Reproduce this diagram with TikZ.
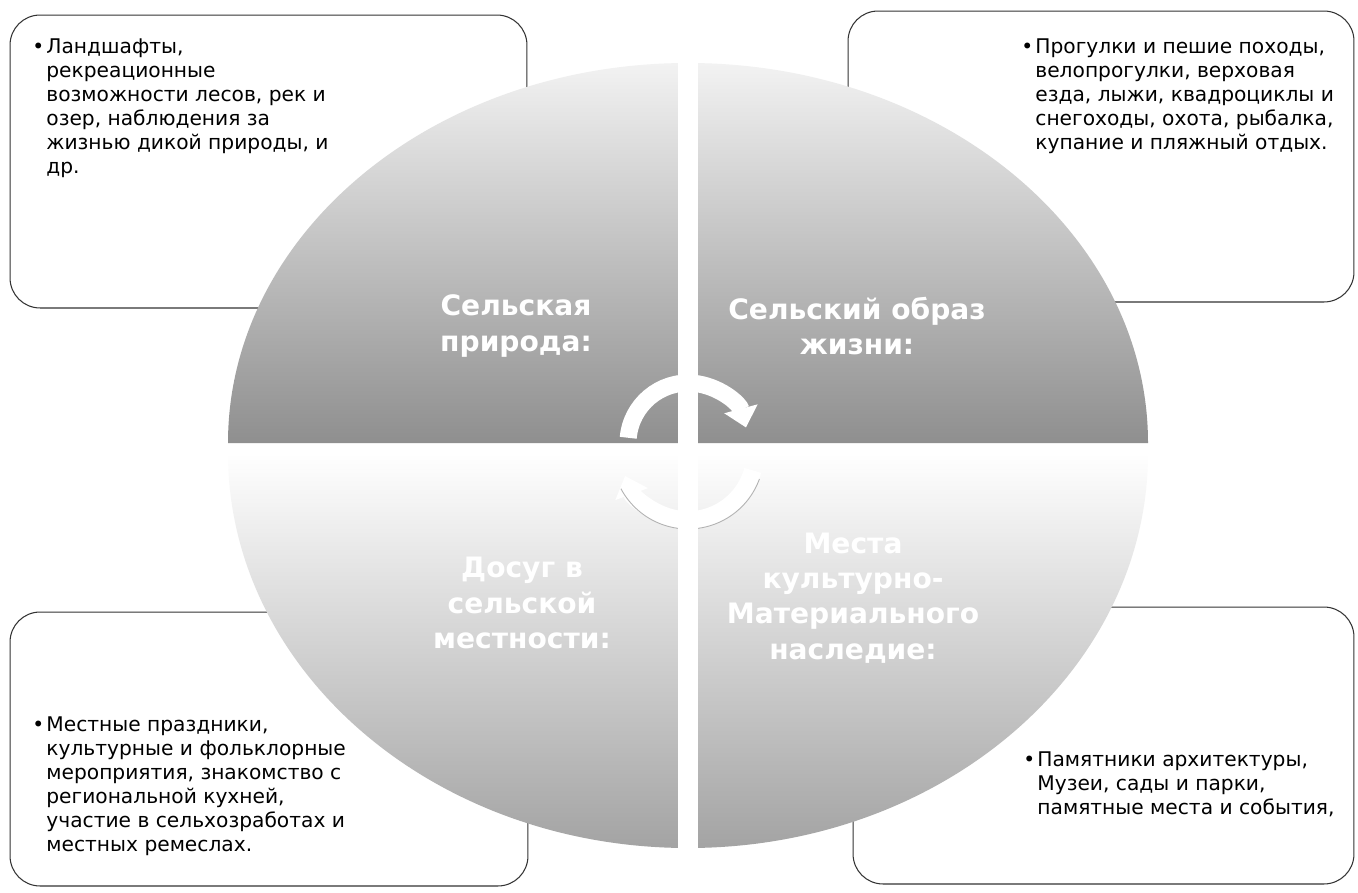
\documentclass[tikz,border=0pt]{standalone}
\usepackage{fontspec}
\setmainfont{DejaVu Sans}
\usetikzlibrary{arrows.meta}

\tikzset{
  infobox/.style={draw=black!80, line width=0.6pt, fill=white, rounded corners=0.6cm, inner sep=0pt},
  infotext/.style={anchor=north west, inner sep=0pt, align=left,
    font=\fontsize{11.5pt}{13.7pt}\selectfont},
  quadtitle/.style={text=white, align=center, inner sep=0pt,
    font=\fontsize{16pt}{20pt}\selectfont\bfseries},
}
\newcommand{\bullist}[1]{\makebox[8pt][l]{\textbullet}\begin{tabular}[t]{@{}l@{}}#1\end{tabular}}

\begin{document}
\begin{tikzpicture}[x=0.02cm, y=-0.02cm]

  \useasboundingbox (0,0) rectangle (1358,892);
  \fill[white] (0,0) rectangle (1358,892);

  % Boxes
  \node[infobox, minimum width=10.34cm, minimum height=5.86cm] (boxnw) at (268.5,161.5) {};
  \node[infobox, minimum width=10.12cm, minimum height=5.82cm] (boxne) at (1101,156.5) {};
  \node[infobox, minimum width=10.36cm, minimum height=5.48cm] (boxsw) at (269,749) {};
  \node[infobox, minimum width=10.02cm, minimum height=5.54cm] (boxse) at (1103.5,745.5) {};

  % Circle
  \shade[top color=black!5, bottom color=black!44]
    (228,443) arc[start angle=180, end angle=360, x radius=460, y radius=380] -- cycle;
  \shade[top color=white, middle color=black!6, bottom color=black!36]
    (228,453) arc[start angle=180, end angle=0, x radius=460, y radius=395] -- cycle;

  % Arrows
  \coordinate (ctrup) at (688,443);
  \coordinate (ctrdown) at (688,453);
  \draw[white, line width=9.7pt, -{Triangle[width=19pt,length=11pt]}]
    (ctrup) ++(185:60) arc[start angle=185, end angle=345, radius=60];
  \draw[white, line width=10pt, -{Triangle[width=19pt,length=11pt]}]
    (ctrdown) ++(15:67) arc[start angle=15, end angle=160, radius=67];
  \draw[black!30, line width=0.5pt]
    (ctrdown) ++(20:76) arc[start angle=20, end angle=152, radius=76];

  % Gap
  \fill[white] (678,30) rectangle (698,870);

  % Titles
  \node[quadtitle] (titlenw) at (516,326) {Сельская\\природа:};
  \node[quadtitle] (titlene) at (857,326) {Сельский образ\\жизни:};
  \node[quadtitle] (titlesw) at (522,603) {Досуг в\\сельской\\местности:};
  \node[quadtitle] (titlese) at (853,598) {Места\\культурно-\\Материального\\наследие:};

  % Texts
  \node[infotext] (textnw) at (32,36) {\bullist{Ландшафты,\\ рекреационные\\ возможности лесов, рек и\\ озер, наблюдения за\\ жизнью дикой природы, и\\ др.}};
  \node[infotext] (textne) at (1021,36) {\bullist{Прогулки и пешие походы,\\ велопрогулки, верховая\\ езда, лыжи, квадроциклы и\\ снегоходы, охота, рыбалка,\\ купание и пляжный отдых.}};
  \node[infotext] (textsw) at (32,714) {\bullist{Местные праздники,\\ культурные и фольклорные\\ мероприятия, знакомство с\\ региональной кухней,\\ участие в сельхозработах и\\ местных ремеслах.}};
  \node[infotext] (textse) at (1023,749) {\bullist{Памятники архитектуры,\\ Музеи, сады и парки,\\ памятные места и события,}};

\end{tikzpicture}
\end{document}
